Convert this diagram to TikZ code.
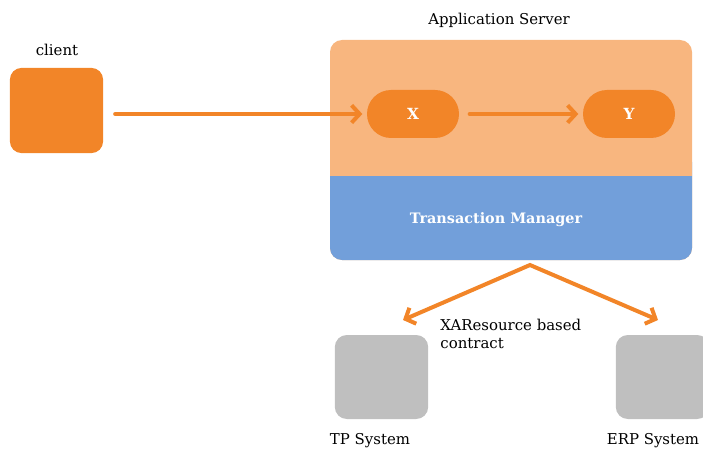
\documentclass[tikz,border=0pt]{standalone}
\usepackage{fontspec}
\setmainfont{DejaVu Serif}
\usetikzlibrary{arrows.meta}

\definecolor{boxorange}{HTML}{F28528}
\definecolor{srvpeach}{HTML}{F8B67F}
\definecolor{tmblue}{HTML}{729FDA}
\definecolor{sysgray}{HTML}{BFBFBF}

\begin{document}
\begin{tikzpicture}[x=0.75pt, y=-0.75pt, font=\fontsize{11.2}{13.5}\selectfont, line width=3pt,
	>={Straight Barb[length=6pt, width=13pt]},
	box/.style={rounded corners=9pt, minimum width=70pt, minimum height=64pt, inner sep=0pt, outer sep=0pt},
	pill/.style={rounded corners=18pt, fill=boxorange, minimum width=69pt, minimum height=36pt, outer sep=0pt, text=white, font=\fontsize{11.5}{12}\selectfont\bfseries},
	flow/.style={draw=boxorange, line cap=round, line join=round}]
		\useasboundingbox (0, 0) rectangle (703, 449);

		% application server with the transaction manager below
		\node[box, fill=srvpeach, minimum width=271.5pt, minimum height=165pt] (srv) at (511, 150) {};
		\fill[tmblue, rounded corners=9pt] (srv.west) rectangle (srv.south east);
		\fill[srvpeach] ([yshift=3pt]srv.west) rectangle (srv.east |- 0, 176);
		\node (srvlbl) at (499, 20) {Application Server};
		\node[text=white, font=\fontsize{10.8}{12}\selectfont\bfseries] (tm) at (496, 220) {Transaction Manager};

		\node[box, fill=boxorange] (client) at (56.5, 110.5) {};
		\node (clientlbl) at (57, 50) {client};
		\node[pill] (X) at (413, 114) {X};
		\node[pill] (Y) at (629, 114) {Y};

		\node[box, fill=sysgray, minimum height=63pt] (tp) at (381.5, 377) {};
		\node[box, fill=sysgray, minimum height=63pt] (erp) at (662.5, 377) {};
		\node (tplbl) at (370, 441) {TP System};
		\node (erplbl) at (653, 441) {ERP System};

		\coordinate (split) at (530, 265);
		\coordinate (tpin) at (403, 320);
		\coordinate (erpin) at (658, 320);

		\draw[flow, ->, shorten <=9pt, shorten >=3.5pt] (client.east |- X.west) -- (X.west);
		\draw[flow, ->, shorten <=8pt, shorten >=3.5pt] (X) -- (Y);
		\draw[flow, line join=miter, <->] (tpin) -- (split) -- (erpin);

		\node[anchor=west, align=left] (xalbl) at (434, 334) {XAResource based\\contract};
	\end{tikzpicture}
\end{document}
